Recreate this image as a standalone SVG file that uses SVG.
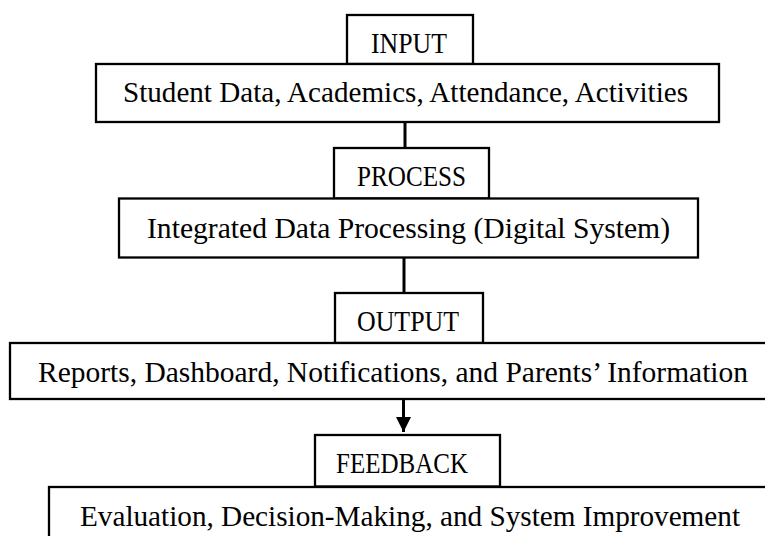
<svg xmlns="http://www.w3.org/2000/svg" width="765" height="536" viewBox="0 0 765 536">
<style>
.box{fill:#fff;stroke:#000;stroke-width:2.3}
.t{font-family:"Liberation Serif",serif;font-size:30px;fill:#000;text-anchor:middle}
.c{stroke:#000;stroke-width:3;fill:none}
</style>
<defs>
<marker id="ah" markerUnits="userSpaceOnUse" markerWidth="16" markerHeight="16" viewBox="0 0 16 16" refX="15" refY="8" orient="auto">
<path d="M0,0.5 L15,8 L0,15.5 Z" fill="#000"/>
</marker>
</defs>
<rect width="765" height="536" fill="#fff"/>
<g id="connectors">
<line class="c" x1="405" y1="122" x2="405" y2="148"/>
<line class="c" x1="404" y1="257" x2="404" y2="293"/>
<line class="c" x1="403.5" y1="399" x2="403.5" y2="432" marker-end="url(#ah)"/>
</g>
<g id="input">
<rect class="box" x="347" y="15" width="126" height="49"/>
<text class="t" x="409" y="53" textLength="76" lengthAdjust="spacingAndGlyphs">INPUT</text>
</g>
<g id="input-detail">
<rect class="box" x="96" y="64" width="623" height="58"/>
<text class="t" x="405.5" y="102" textLength="565" lengthAdjust="spacingAndGlyphs">Student Data, Academics, Attendance, Activities</text>
</g>
<g id="process">
<rect class="box" x="334" y="148" width="155" height="50.5"/>
<text class="t" x="411.5" y="186" textLength="109" lengthAdjust="spacingAndGlyphs">PROCESS</text>
</g>
<g id="process-detail">
<rect class="box" x="119" y="198.5" width="579" height="59"/>
<text class="t" x="408.5" y="238" textLength="523" lengthAdjust="spacingAndGlyphs">Integrated Data Processing (Digital System)</text>
</g>
<g id="output">
<rect class="box" x="335" y="293" width="148" height="50"/>
<text class="t" x="408" y="331" textLength="102" lengthAdjust="spacingAndGlyphs">OUTPUT</text>
</g>
<g id="output-detail">
<rect class="box" x="10" y="343" width="780" height="56"/>
<text class="t" x="393" y="382" textLength="710" lengthAdjust="spacingAndGlyphs">Reports, Dashboard, Notifications, and Parents’ Information</text>
</g>
<g id="feedback">
<rect class="box" x="315" y="435" width="185" height="51.5"/>
<text class="t" x="402" y="473" textLength="132" lengthAdjust="spacingAndGlyphs">FEEDBACK</text>
</g>
<g id="feedback-detail">
<rect class="box" x="49" y="487" width="740" height="70"/>
<text class="t" x="410" y="526" textLength="660" lengthAdjust="spacingAndGlyphs">Evaluation, Decision-Making, and System Improvement</text>
</g>
</svg>
